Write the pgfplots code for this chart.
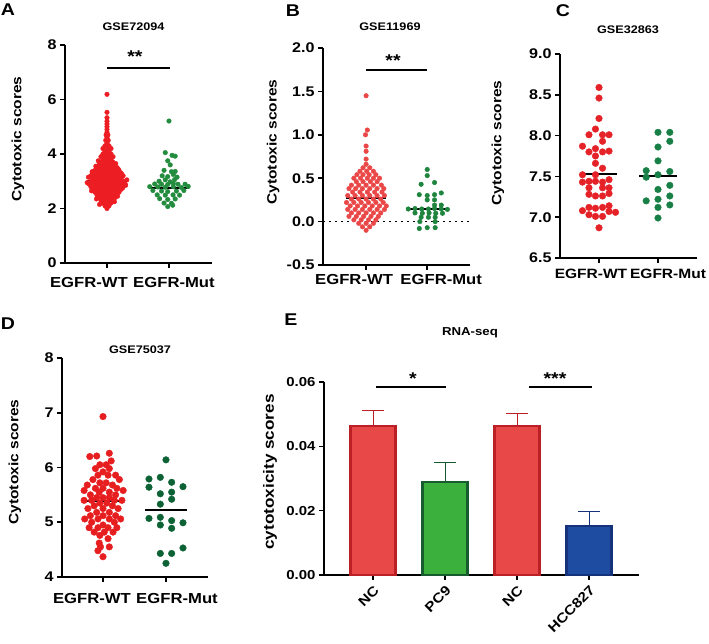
\documentclass[border=0pt]{standalone}
\usepackage{fontspec}
\setmainfont{Liberation Sans}[FakeStretch=1.15]
\usepackage{pgfplots}
\pgfplotsset{compat=1.18}

% dot colours per data set
\definecolor{redA}{RGB}{236,30,36}
\definecolor{grnA}{RGB}{36,140,62}
\definecolor{redB}{RGB}{234,72,72}
\definecolor{grnB}{RGB}{30,132,62}
\definecolor{redC}{RGB}{228,34,40}
\definecolor{grnC}{RGB}{24,128,70}
\definecolor{redD}{RGB}{230,30,32}
\definecolor{grnD}{RGB}{12,98,52}
% bar colours
\definecolor{barR}{RGB}{232,72,72}
\definecolor{barRd}{RGB}{186,32,38}
\definecolor{barG}{RGB}{60,176,60}
\definecolor{barGd}{RGB}{22,92,46}
\definecolor{barB}{RGB}{30,76,160}
\definecolor{barBd}{RGB}{22,50,122}

\newcommand{\fs}[1]{\fontsize{#1}{#1}\selectfont\bfseries}

\pgfplotsset{
  prism/.style={
    scale only axis, anchor=south west,
    axis x line*=bottom, axis y line*=left,
    axis line style={line width=1.8pt},
    tick style={line width=1.6pt, black},
    major tick length=5pt, tick align=outside,
    tick label style={font=\fs{14}},
    enlargelimits=false, clip=false,
    ylabel style={font=\fs{13.5}, anchor=center},
  },
  dotpanel/.style={
    prism,
    xtick={1,2},
    xticklabel style={font=\fs{14.5}},
    ylabel={Cytotoxic scores},
  },
  median/.style={black, line width=2pt},
  sig/.style={black, line width=2pt},
}

\begin{document}
\begin{tikzpicture}
\useasboundingbox (0pt,0pt) rectangle (709pt,644pt);

% ---------------- A: GSE72094 ----------------
\begin{axis}[dotpanel, at={(65pt,381pt)}, width=147pt, height=218pt,
  xmin=0.3226, xmax=2.694, ymin=0, ymax=8,
  xticklabels={EGFR-WT\hspace*{36pt}, \hspace*{10pt}EGFR-Mut},
  xticklabel style={yshift=-6pt},
  ytick={0,2,4,6,8}, yticklabels={0,2,4,6,8},
  ylabel style={at={(axis description cs:-0.320,0.569)}}]
\addplot[median] coordinates {(0.67,3.0) (1.33,3.0)};
\addplot[only marks, mark=*, mark size=2.3pt, redA] coordinates {
(1,2.0)
(0.9675,2.1)(1.0325,2.1)
(0.935,2.2)(1,2.2)(1.065,2.2)
(0.9025,2.3)(0.9675,2.3)(1.0325,2.3)(1.0975,2.3)
(0.87,2.4)(0.935,2.4)(1,2.4)(1.065,2.4)(1.13,2.4)
(0.8375,2.5)(0.9025,2.5)(0.9675,2.5)(1.0325,2.5)(1.0975,2.5)(1.1625,2.5)
(0.805,2.6)(0.87,2.6)(0.935,2.6)(1,2.6)(1.065,2.6)(1.13,2.6)(1.195,2.6)
(0.7725,2.7)(0.8375,2.7)(0.9025,2.7)(0.9675,2.7)(1.0325,2.7)(1.0975,2.7)(1.1625,2.7)(1.2275,2.7)
(0.74,2.8)(0.805,2.8)(0.87,2.8)(0.935,2.8)(1,2.8)(1.065,2.8)(1.13,2.8)(1.195,2.8)(1.26,2.8)
(0.7075,2.9)(0.7725,2.9)(0.8375,2.9)(0.9025,2.9)(0.9675,2.9)(1.0325,2.9)(1.0975,2.9)(1.1625,2.9)(1.2275,2.9)(1.2925,2.9)
(0.74,3.0)(0.805,3.0)(0.87,3.0)(0.935,3.0)(1,3.0)(1.065,3.0)(1.13,3.0)(1.195,3.0)(1.26,3.0)
(0.7725,3.1)(0.8375,3.1)(0.9025,3.1)(0.9675,3.1)(1.0325,3.1)(1.0975,3.1)(1.1625,3.1)(1.2275,3.1)
(0.74,3.2)(0.805,3.2)(0.87,3.2)(0.935,3.2)(1,3.2)(1.065,3.2)(1.13,3.2)(1.195,3.2)(1.26,3.2)
(0.7725,3.3)(0.8375,3.3)(0.9025,3.3)(0.9675,3.3)(1.0325,3.3)(1.0975,3.3)(1.1625,3.3)(1.2275,3.3)
(0.805,3.4)(0.87,3.4)(0.935,3.4)(1,3.4)(1.065,3.4)(1.13,3.4)(1.195,3.4)
(0.8375,3.5)(0.9025,3.5)(0.9675,3.5)(1.0325,3.5)(1.0975,3.5)(1.1625,3.5)
(0.87,3.6)(0.935,3.6)(1,3.6)(1.065,3.6)(1.13,3.6)
(0.9025,3.7)(0.9675,3.7)(1.0325,3.7)(1.0975,3.7)
(0.935,3.8)(1,3.8)(1.065,3.8)
(0.9025,3.9)(0.9675,3.9)(1.0325,3.9)(1.0975,3.9)
(0.935,4.0)(1,4.0)(1.065,4.0)
(0.9675,4.1)(1.0325,4.1)
(0.935,4.2)(1,4.2)(1.065,4.2)
(0.9675,4.3)(1.0325,4.3)
(1,4.4)(0.98,4.5)(1.02,4.5)(1,4.6)(0.985,4.7)(1.015,4.7)
(1,4.8)(1,4.9)(1,5.0)(1,5.1)(1,5.2)(1,5.33)(1,5.53)(1,6.19)
(0.68,2.95)(1.32,3.05)(0.70,3.15)(1.30,2.85)(0.75,2.65)(1.25,2.75)
(0.76,3.35)(1.24,3.25)(0.82,3.55)(1.18,3.45)(0.86,3.75)(1.14,3.65)
(0.83,2.35)(1.17,2.45)(0.88,2.15)(1.12,2.25)
};
\addplot[median] coordinates {(1.67,2.74) (2.33,2.74)};
\addplot[only marks, mark=*, mark size=2.3pt, grnA] coordinates {
(2.00,5.21)
(1.94,4.05)(2.05,3.95)(2.10,3.92)(1.98,3.75)(2.02,3.60)
(1.92,3.40)(2.04,3.35)(2.10,3.36)
(2.07,3.25)(1.89,3.20)(1.98,3.17)(2.13,3.15)
(1.94,3.05)(2.09,3.06)(1.84,3.00)(2.02,2.98)
(1.77,2.90)(1.88,2.89)(1.98,2.88)(2.145,2.89)(2.26,2.89)(2.07,2.92)
(1.69,2.80)(1.82,2.79)(1.94,2.78)(2.07,2.80)(2.20,2.77)(2.31,2.81)
(1.74,2.66)(1.88,2.64)(1.98,2.62)(2.12,2.64)(2.24,2.66)
(1.81,2.50)(1.94,2.49)(2.065,2.50)(2.17,2.49)
(1.85,2.36)(1.98,2.33)(2.10,2.35)
(1.92,2.20)(2.04,2.19)(1.98,2.07)(2.06,2.12)
};
\addplot[sig] coordinates {(1,7.16) (2.016,7.16)};
\end{axis}

% ---------------- B: GSE11969 ----------------
\begin{axis}[dotpanel, at={(323pt,379pt)}, width=147pt, height=217pt,
  xmin=0.295, xmax=2.70, ymin=-0.5, ymax=2,
  xticklabels={EGFR-WT\hspace*{24pt}, \hspace*{28pt}EGFR-Mut},
  xticklabel style={yshift=-1pt},
  ytick={-0.5,0,0.5,1,1.5,2}, yticklabels={-0.5,0.0,0.5,1.0,1.5,2.0},
  ylabel style={at={(axis description cs:-0.340,0.567)}}]
\addplot[black, line width=1.8pt, dash pattern=on 1.8pt off 4.2pt] coordinates {(0.30,0) (2.69,0)};
\addplot[median] coordinates {(0.67,0.27) (1.33,0.27)};
\addplot[only marks, mark=*, mark size=2.3pt, redB] coordinates {
(1.00,0.66)
(0.95,0.62)(1.06,0.62)
(0.90,0.58)(1.01,0.58)(1.12,0.58)
(0.85,0.54)(0.95,0.54)(1.05,0.54)(1.16,0.54)
(0.80,0.50)(0.91,0.50)(1.02,0.50)(1.12,0.50)(1.22,0.50)
(0.84,0.46)(0.95,0.46)(1.07,0.46)(1.18,0.46)
(0.76,0.42)(0.88,0.42)(1.00,0.42)(1.12,0.42)(1.25,0.42)
(0.72,0.38)(0.83,0.38)(0.94,0.38)(1.06,0.38)(1.18,0.38)(1.29,0.38)
(0.78,0.34)(0.90,0.34)(1.02,0.34)(1.14,0.34)(1.26,0.34)
(0.70,0.30)(0.82,0.30)(0.94,0.30)(1.06,0.30)(1.18,0.30)(1.30,0.30)
(0.76,0.26)(0.88,0.26)(1.00,0.26)(1.12,0.26)(1.24,0.26)
(0.68,0.22)(0.80,0.22)(0.92,0.22)(1.04,0.22)(1.16,0.22)(1.28,0.22)
(0.74,0.18)(0.86,0.18)(0.98,0.18)(1.10,0.18)(1.22,0.18)(1.33,0.18)
(0.70,0.14)(0.82,0.14)(0.94,0.14)(1.06,0.14)(1.18,0.14)(1.30,0.14)
(0.76,0.10)(0.88,0.10)(1.00,0.10)(1.12,0.10)(1.24,0.10)
(0.72,0.06)(0.84,0.06)(0.96,0.06)(1.08,0.06)(1.20,0.06)
(0.80,0.02)(0.92,0.02)(1.04,0.02)(1.16,0.02)
(0.88,-0.02)(1.00,-0.02)(1.12,-0.02)
(0.94,-0.06)(1.06,-0.06)
(1.00,-0.10)
(1.00,0.72)(1.00,0.81)(1.00,0.87)(0.99,1.00)(1.02,1.055)(1.00,1.45)
};
\addplot[median] coordinates {(1.67,0.145) (2.33,0.145)};
\addplot[only marks, mark=*, mark size=2.3pt, grnB] coordinates {
(2.00,0.60)(2.00,0.53)(1.90,0.43)(2.12,0.45)
(1.87,0.31)(2.00,0.30)(2.12,0.31)(2.23,0.33)
(2.00,0.25)(2.12,0.25)(2.12,0.19)(2.23,0.19)
(1.69,0.145)(1.80,0.15)(1.91,0.145)(2.02,0.145)(2.12,0.15)(2.23,0.145)(2.33,0.14)
(1.80,0.10)(1.92,0.096)(2.03,0.10)(2.14,0.096)(2.25,0.096)
(1.90,0.05)(2.02,0.05)(2.13,0.05)
(1.88,0.00)(2.13,0.00)
(1.87,-0.08)(2.00,-0.07)(2.13,-0.07)
};
\addplot[sig] coordinates {(1,1.746) (2,1.746)};
\end{axis}

% ---------------- C: GSE32863 ----------------
\begin{axis}[dotpanel, at={(560pt,386pt)}, width=137pt, height=204pt,
  xmin=0.339, xmax=2.661, ymin=6.5, ymax=9,
  xticklabels={EGFR-WT\hspace*{16pt}, \hspace*{20pt}EGFR-Mut},
  xticklabel style={yshift=-3pt, font=\fs{13.5}},
  ytick={6.5,7,7.5,8,8.5,9}, yticklabels={6.5,7.0,7.5,8.0,8.5,9.0},
  ylabel style={at={(axis description cs:-0.453,0.564)}}]
\addplot[only marks, mark=*, mark size=3.3pt, redC] coordinates {
(1.00,8.59)(1.00,8.46)(1.00,8.21)(0.94,8.08)
(0.83,8.01)(1.06,8.01)(1.17,8.01)(1.06,7.93)
(0.72,7.87)(0.94,7.84)(0.83,7.80)(1.06,7.80)(1.17,7.81)
(0.94,7.75)(0.94,7.66)(1.06,7.60)(0.72,7.52)(0.94,7.52)
(0.72,7.43)(0.83,7.44)(0.94,7.44)(1.06,7.43)(1.17,7.46)
(0.83,7.36)(1.06,7.36)(1.17,7.36)
(0.83,7.28)(0.94,7.26)(1.06,7.26)(1.17,7.29)
(0.83,7.12)(0.94,7.11)(1.06,7.12)(1.17,7.14)
(0.72,7.08)(1.17,7.07)(1.28,7.06)
(0.83,7.03)(0.94,7.01)(1.06,7.01)(1.00,6.87)
};
\addplot[only marks, mark=*, mark size=3.3pt, grnC] coordinates {
(2.00,8.04)(2.20,8.04)(2.00,7.86)(2.20,7.93)(2.00,7.69)
(1.80,7.57)(1.80,7.49)(2.00,7.52)(2.20,7.56)
(2.00,7.34)(2.20,7.39)(1.80,7.20)(2.00,7.22)(2.20,7.26)
(2.00,7.12)(2.20,7.15)(2.00,6.99)
};
\addplot[median] coordinates {(0.70,7.53) (1.30,7.53)};
\addplot[median] coordinates {(1.68,7.50) (2.32,7.50)};
\end{axis}

% ---------------- D: GSE75037 ----------------
\begin{axis}[dotpanel, at={(62pt,67pt)}, width=146pt, height=219pt,
  xmin=0.349, xmax=2.667, ymin=4, ymax=8,
  xticklabels={EGFR-WT\hspace*{22pt}, \hspace*{22pt}EGFR-Mut},
  xticklabel style={yshift=-8pt},
  ytick={4,5,6,7,8}, yticklabels={4,5,6,7,8},
  ylabel style={at={(axis description cs:-0.322,0.525)}}]
\addplot[median] coordinates {(0.67,5.39) (1.33,5.39)};
\addplot[only marks, mark=*, mark size=3.3pt, redD] coordinates {
(1.00,6.93)(1.10,6.26)(0.90,6.21)(0.79,6.20)(1.13,6.12)
(0.95,6.05)(1.05,6.05)(0.88,5.98)(1.10,5.98)(1.00,5.92)
(0.92,5.86)(1.08,5.86)(1.20,5.86)(0.84,5.78)(1.26,5.78)
(0.95,5.72)(1.05,5.72)(0.75,5.68)(1.15,5.68)
(0.88,5.62)(1.00,5.62)(1.22,5.62)(0.70,5.58)(1.32,5.58)
(0.94,5.55)(1.10,5.55)(0.80,5.50)(1.20,5.50)
(0.90,5.45)(1.00,5.45)(1.10,5.45)
(0.70,5.40)(0.82,5.40)(1.18,5.40)(1.30,5.40)
(0.95,5.35)(1.06,5.35)(0.86,5.30)(1.15,5.30)
(0.76,5.25)(1.00,5.25)(1.24,5.25)(0.90,5.18)(1.10,5.18)
(0.80,5.12)(1.00,5.12)(1.20,5.12)
(0.71,5.06)(0.92,5.06)(1.10,5.06)(1.28,5.06)
(0.82,5.00)(1.18,5.00)(1.00,4.95)
(0.78,4.90)(0.92,4.90)(1.08,4.90)(1.22,4.90)
(0.86,4.82)(1.02,4.82)(1.16,4.82)(0.95,4.76)(1.08,4.70)
(0.94,4.62)(0.96,4.55)(1.10,4.55)(0.92,4.48)(1.00,4.37)
};
\addplot[median] coordinates {(1.67,5.22) (2.33,5.22)};
\addplot[only marks, mark=*, mark size=3.3pt, grnD] coordinates {
(2.00,6.14)(1.73,5.79)(1.91,5.82)(2.09,5.73)(2.27,5.65)(1.73,5.64)
(1.91,5.52)(2.09,5.55)(2.09,5.42)(1.91,5.33)
(1.73,5.07)(1.91,5.09)(2.09,5.03)(2.27,4.99)(1.91,4.95)(2.09,4.89)
(2.27,4.53)(1.91,4.43)(2.09,4.43)(2.00,4.25)
};
\end{axis}

% ---------------- E: RNA-seq ----------------
\begin{axis}[prism, at={(324pt,69pt)}, width=315pt, height=193pt,
  xmin=0.319, xmax=4.694, ymin=0, ymax=0.06,
  xtick={1,2,3,4}, xticklabels={NC,PC9,NC,HCC827},
  xticklabel style={rotate=45, anchor=north east, font=\fs{13.5}},
  ytick={0,0.02,0.04,0.06}, yticklabels={0.00,0.02,0.04,0.06},
  yticklabel style={font=\fs{13}},
  scaled y ticks=false,
  ylabel={cytotoxicity scores},
  ylabel style={font=\fs{14.9}, at={(axis description cs:-0.171,0.534)}}]
\addplot[ybar, bar width=45pt, bar shift=0pt, fill=barR, draw=barRd, line width=2.2pt,
  error bars/.cd, y dir=plus, y explicit, error mark=-,
  error bar style={line width=1pt, barRd},
  error mark options={rotate=90, line width=1pt, barRd, mark size=11pt}]
  coordinates {(1,0.0463) +- (0,0.0047) (3,0.0463) +- (0,0.0040)};
\addplot[ybar, bar width=45pt, bar shift=0pt, fill=barG, draw=barGd, line width=2.2pt,
  error bars/.cd, y dir=plus, y explicit, error mark=-,
  error bar style={line width=1pt, barGd},
  error mark options={rotate=90, line width=1pt, barGd, mark size=11pt}]
  coordinates {(2,0.0289) +- (0,0.0062)};
\addplot[ybar, bar width=45pt, bar shift=0pt, fill=barB, draw=barBd, line width=2.2pt,
  error bars/.cd, y dir=plus, y explicit, error mark=-,
  error bar style={line width=1pt, barBd},
  error mark options={rotate=90, line width=1pt, barBd, mark size=11pt}]
  coordinates {(4,0.0152) +- (0,0.0044)};
\addplot[sig] coordinates {(1.04,0.0584) (2.01,0.0584)};
\addplot[sig] coordinates {(3.17,0.0584) (4.04,0.0584)};
\end{axis}

% panel letters, titles and significance marks
\node[font=\fs{17}] at (8pt,634pt) {A};
\node[font=\fs{17}] at (293pt,633pt) {B};
\node[font=\fs{17}] at (563pt,633pt) {C};
\node[font=\fs{17}] at (8pt,320pt) {D};
\node[font=\fs{17}] at (291pt,324pt) {E};

\node[font=\fs{11}] at (133.5pt,617pt) {GSE72094};
\node[font=\fs{11}] at (390pt,617pt) {GSE11969};
\node[font=\fs{11}] at (628pt,614pt) {GSE32863};
\node[font=\fs{11}] at (140pt,294pt) {GSE75037};
\node[font=\fs{11.5}] at (470pt,311pt) {RNA-seq};

\node[font=\fs{17}, anchor=base] at (135pt,581pt) {**};
\node[font=\fs{17}, anchor=base] at (393pt,577pt) {**};
\node[font=\fs{17}, anchor=base] at (413pt,259pt) {*};
\node[font=\fs{17}, anchor=base] at (555pt,259pt) {***};
\end{tikzpicture}
\end{document}
